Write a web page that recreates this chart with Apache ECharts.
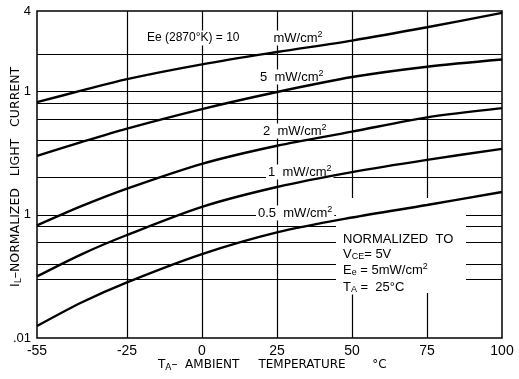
<!DOCTYPE html>
<html><head><meta charset="utf-8">
<script src="https://cdn.jsdelivr.net/npm/echarts/dist/echarts.min.js"></script>
<style>html,body{margin:0;padding:0;background:#fff}#c{width:519px;height:379px}</style>
</head><body><div id="c"></div>
<script>
// ---- data ----
const temps = [-55, -40, -25, 0, 25, 50, 75, 100];
const ee10 = [0.82, 1.02, 1.26, 1.66, 2.09, 2.59, 3.32, 4.34];
const ee5 = [0.30, 0.39, 0.50, 0.72, 0.99, 1.31, 1.59, 1.82];
const ee2 = [0.082, 0.118, 0.163, 0.259, 0.363, 0.472, 0.617, 0.733];
const ee1 = [0.0316, 0.048, 0.0685, 0.116, 0.168, 0.222, 0.279, 0.342];
const ee05 = [0.0125, 0.0195, 0.0283, 0.048, 0.072, 0.095, 0.12, 0.153];
const xTickLabels = [-55, -25, 0, 25, 50, 75, 100];
const xGridValues = [-25, 0, 25, 50, 75];
const yGridValues = [2, 1, 0.8, 0.6, 0.4, 0.2, 0.1, 0.08, 0.06, 0.04, 0.025];
const yTickValues = [0.01, 0.1, 1];
const yTickTexts = ['.01', '1', '1'];
const yTopText = '4';

const chart = echarts.init(document.getElementById('c'), null, {renderer: 'canvas'});
const FONT = 'Liberation Sans, Arial, Helvetica, sans-serif';
const TFONT = 'DejaVu Sans, Liberation Sans, sans-serif';

function pairs(arr) { return temps.map((t, i) => [t, arr[i]]); }
function curve(name, arr) {
  return {
    name, type: 'line', data: pairs(arr), smooth: 0.3, showSymbol: false, silent: true,
    z: 3, lineStyle: {color: '#000', width: 2.4}, animation: false
  };
}
const main = {fontSize: 13, fontFamily: FONT, lineHeight: 15, fill: '#000'};
const main12 = {fontSize: 12, fontFamily: FONT, lineHeight: 15, fill: '#000'};
const sup = {fontSize: 9, fontFamily: FONT, lineHeight: 6, verticalAlign: 'top', fill: '#000'};
const sub = {fontSize: 9, fontFamily: FONT, lineHeight: 6, verticalAlign: 'bottom', fill: '#000'};
function note(x, y, text) {
  return {
    type: 'text', x, y, z: 2, silent: true,
    style: {
      text, rich: {a: main, b: main12, p: sup, s: sub, g: {width: 34, lineHeight: 15}},
      align: 'left', verticalAlign: 'middle', backgroundColor: '#fff', padding: [0, 2]
    }
  };
}
const tmain = {fontSize: 12, fontFamily: TFONT, lineHeight: 14, fill: '#000'};
const tsub = {fontSize: 9, fontFamily: TFONT, lineHeight: 6, verticalAlign: 'bottom', fill: '#000'};
const ymain = {fontSize: 12.5, fontFamily: TFONT, lineHeight: 14, fill: '#000'};

const option = {
  animation: false,
  backgroundColor: '#fff',
  grid: {left: 37, right: 17, top: 11, bottom: 41, show: true, borderColor: '#000', borderWidth: 1.5, backgroundColor: 'transparent'},
  xAxis: {
    type: 'value', min: -55, max: 100, interval: 5,
    axisLine: {show: false}, axisTick: {show: false}, splitLine: {show: false},
    axisLabel: {
      margin: 6, color: '#000', fontSize: 14, fontFamily: FONT,
      formatter: v => xTickLabels.indexOf(Math.round(v)) >= 0 ? String(Math.round(v)) : ''
    }
  },
  yAxis: {
    type: 'log', logBase: 10, min: 0.01, max: 4.5,
    axisLine: {show: false}, axisTick: {show: false}, splitLine: {show: false},
    axisLabel: {
      margin: 6, color: '#000', fontSize: 13, fontFamily: FONT, showMaxLabel: true, showMinLabel: true,
      formatter: v => {
        if (v > 3) return yTopText;
        for (let i = 0; i < yTickValues.length; i++) {
          if (Math.abs(v - yTickValues[i]) < yTickValues[i] * 1e-6) return yTickTexts[i];
        }
        return '';
      }
    }
  },
  series: [
    {
      type: 'line', data: [], z: 1, silent: true,
      markLine: {
        z: 1, silent: true, symbol: ['none', 'none'], label: {show: false}, animation: false,
        lineStyle: {color: '#000', width: 1.2, type: 'solid'},
        data: yGridValues.map(v => ({yAxis: v})).concat(xGridValues.map(v => ({xAxis: v})))
      }
    },
    curve('10', ee10), curve('5', ee5), curve('2', ee2), curve('1', ee1), curve('0.5', ee05)
  ],
  graphic: [
    {type: 'rect', z: 2, silent: true, shape: {x: 336, y: 198, width: 130, height: 95}, style: {fill: '#fff'}},
    note(145, 38, '{b|Ee (2870°K) = 10}{g| }{a|mW/cm}{p|2}'),
    note(258, 77, '{a|5  mW/cm}{p|2}'),
    note(261, 131, '{a|2  mW/cm}{p|2}'),
    note(266, 172, '{a|1  mW/cm}{p|2}'),
    note(256, 213, '{a|0.5  mW/cm}{p|2}'),
    note(341, 239, '{a|NORMALIZED  TO}'),
    note(341, 254, '{a|V}{s|CE}{a|= 5V}'),
    note(341, 270, '{a|E}{s|e}{a| = 5mW/cm}{p|2}'),
    note(341, 287, '{a|T}{s|A}{a| =  25°C}'),
    {
      type: 'text', x: 158, y: 365, z: 2, silent: true,
      style: {
        text: '{a|T}{s|A}{a|–  AMBIENT     TEMPERATURE       °C}',
        rich: {a: tmain, s: tsub}, align: 'left', verticalAlign: 'middle'
      }
    },
    {
      type: 'text', x: 16, y: 287, z: 2, rotation: Math.PI / 2, silent: true,
      style: {
        text: '{a|I}{s|L}{a|–NORMALIZED   LIGHT   CURRENT}',
        rich: {a: ymain, s: tsub}, align: 'left', verticalAlign: 'middle'
      }
    }
  ]
};
chart.setOption(option);
</script></body></html>
